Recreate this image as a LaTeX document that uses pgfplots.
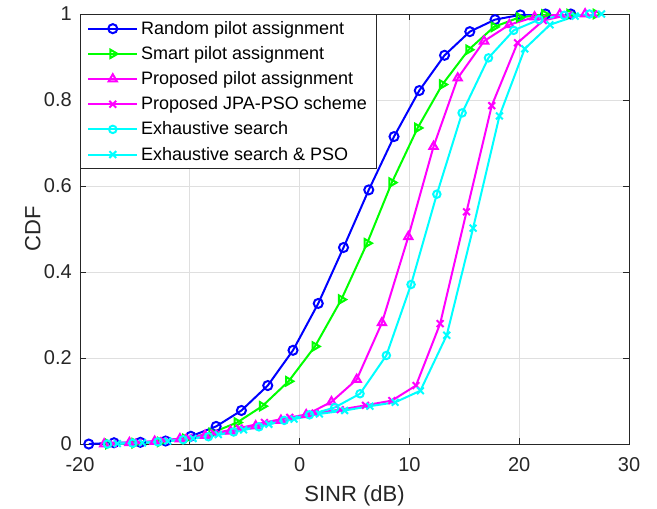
\documentclass[border=0pt]{standalone}
\usepackage{fontspec}
\setmainfont{Liberation Sans}
\usepackage{pgfplots}
\pgfplotsset{compat=1.18}
\definecolor{axgray}{HTML}{262626}
\definecolor{gridgray}{HTML}{DFDFDF}
\definecolor{mblue}{RGB}{0,0,255}
\definecolor{mgreen}{RGB}{0,255,0}
\definecolor{mmag}{RGB}{255,0,255}
\definecolor{mcyan}{RGB}{0,255,255}
\begin{document}
\begin{tikzpicture}
\begin{axis}[
  width=411.75pt, height=322.5pt, scale only axis,
  xmin=-20, xmax=30, ymin=0, ymax=1,
  xtick={-20,-10,...,30}, ytick={0,0.2,...,1},
  yticklabels={0,0.2,0.4,0.6,0.8,1},
  grid=major, grid style={draw=gridgray, line width=0.6pt},
  axis line style={draw=axgray, line width=0.7pt},
  tick style={draw=axgray, line width=0.7pt},
  tick align=inside, major tick length=4.5pt,
  /pgf/number format/assume math mode=true,
  tick label style={font=\fontsize{15}{18}\selectfont, text=axgray, inner sep=1pt},
  xticklabel style={yshift=-9pt},
  yticklabel style={xshift=-5pt},
  label style={font=\fontsize{16.5}{20}\selectfont, text=axgray},
  xlabel={SINR (dB)}, ylabel={CDF},
  xlabel style={yshift=-6pt},
  ylabel style={yshift=-2pt},
  legend cell align=left,
  legend style={at={(rel axis cs:0,1)}, anchor=north west,
    draw=axgray, line width=0.7pt, fill=white,
    font=\fontsize{13.5}{16}\selectfont, row sep=3.6pt,
    inner xsep=5pt, inner ysep=3pt},
  legend image code/.code={
    \draw[#1] (0cm,0cm) -- (1.3cm,0cm);
    \draw[#1, mark repeat=2, mark phase=2] plot coordinates {(0cm,0cm) (0.65cm,0cm) (1.3cm,0cm)};
  },
  every axis plot/.append style={line width=1.5pt},
]
\addplot[color=mblue, mark=o, mark size=3.4pt] coordinates {
(-19.2,0) (-16.9,0.003) (-14.5,0.004) (-12.2,0.007) (-9.9,0.018) (-7.6,0.041)
(-5.3,0.078) (-2.9,0.136) (-0.6,0.218) (1.7,0.327) (4.0,0.457) (6.3,0.591)
(8.6,0.715) (10.9,0.822) (13.2,0.904) (15.5,0.959) (17.8,0.987) (20.1,0.998)
(22.4,1) (24.7,1)};
\addlegendentry{Random pilot assignment}
\addplot[color=mgreen, mark=triangle, mark size=3.6pt, mark options={rotate=-90}] coordinates {
(-17.4,0) (-15.0,0.002) (-12.7,0.005) (-10.4,0.012) (-8.0,0.026) (-5.7,0.05)
(-3.4,0.088) (-1.0,0.146) (1.4,0.227) (3.8,0.336) (6.15,0.467) (8.4,0.608)
(10.75,0.735) (13.0,0.836) (15.4,0.917) (17.7,0.970) (20.0,0.992) (22.3,0.999)
(24.6,1) (27.0,1)};
\addlegendentry{Smart pilot assignment}
\addplot[color=mmag, mark=triangle, mark size=3.6pt] coordinates {
(-17.8,0) (-15.5,0.003) (-13.2,0.006) (-10.9,0.012) (-8.6,0.02) (-6.3,0.03)
(-4.0,0.042) (-1.7,0.055) (0.6,0.068) (2.9,0.098) (5.2,0.15) (7.5,0.282)
(9.9,0.482) (12.2,0.692) (14.4,0.851) (16.8,0.937) (19.1,0.975) (21.4,0.993)
(23.7,0.999) (26.0,1)};
\addlegendentry{Proposed pilot assignment}
\addplot[color=mmag, mark=x, mark size=3.6pt] coordinates {
(-17.0,0.001) (-14.7,0.004) (-12.4,0.008) (-10.1,0.015) (-7.8,0.025) (-5.5,0.037)
(-3.2,0.05) (-0.9,0.062) (1.4,0.072) (3.7,0.08) (6.0,0.09) (8.4,0.101)
(10.6,0.136) (12.8,0.28) (15.2,0.54) (17.5,0.787) (19.85,0.933) (22.2,0.985)
(24.5,0.998) (26.8,1)};
\addlegendentry{Proposed JPA-PSO scheme}
\addplot[color=mcyan, mark=o, mark size=2.8pt] coordinates {
(-17.5,0) (-15.2,0.002) (-12.9,0.005) (-10.6,0.01) (-8.3,0.017) (-6.0,0.028)
(-3.7,0.04) (-1.4,0.055) (0.9,0.068) (3.2,0.085) (5.5,0.117) (7.9,0.206)
(10.15,0.371) (12.5,0.581) (14.8,0.77) (17.2,0.898) (19.5,0.962) (21.8,0.987)
(24.1,0.997) (26.4,1)};
\addlegendentry{Exhaustive search}
\addplot[color=mcyan, mark=x, mark size=3.6pt] coordinates {
(-16.6,0.001) (-14.3,0.003) (-12.0,0.007) (-9.7,0.013) (-7.4,0.022) (-5.1,0.033)
(-2.8,0.046) (-0.5,0.058) (1.8,0.07) (4.1,0.078) (6.4,0.088) (8.7,0.097)
(11.0,0.124) (13.4,0.253) (15.8,0.502) (18.2,0.763) (20.5,0.919) (22.8,0.975)
(25.1,0.995) (27.5,1)};
\addlegendentry{Exhaustive search \& PSO}
\coordinate (ll) at (rel axis cs:-0.1457,-0.1488);
\coordinate (ur) at (rel axis cs:1.051,1.0326);
\end{axis}
\pgfresetboundingbox
\useasboundingbox (ll) rectangle (ur);
\end{tikzpicture}
\end{document}
